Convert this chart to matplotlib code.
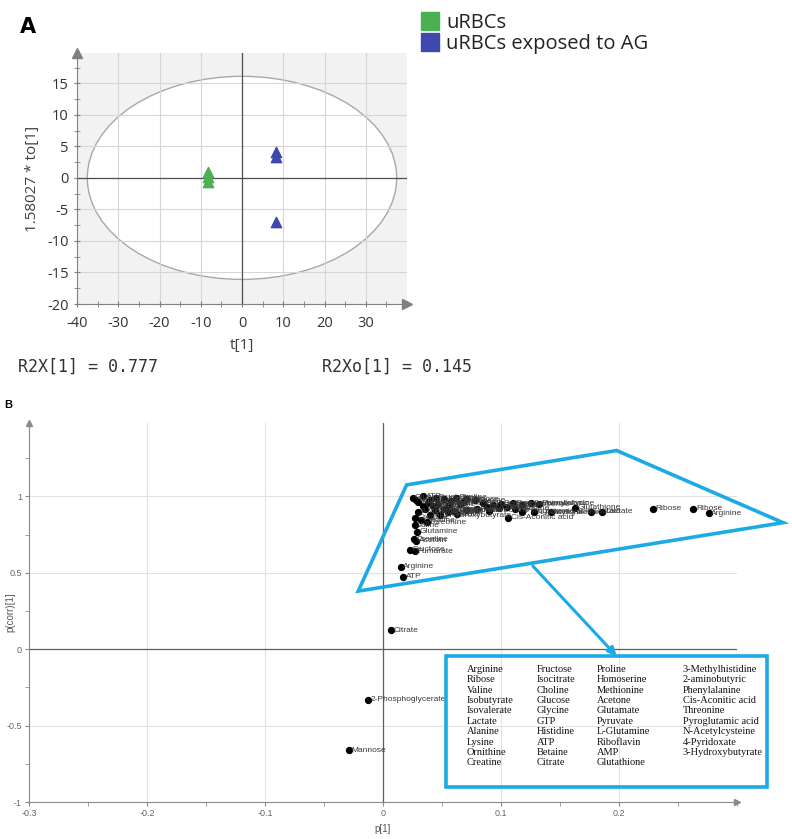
import numpy as np
import matplotlib
matplotlib.use("Agg")
import matplotlib.pyplot as plt
from matplotlib.patches import Ellipse, Polygon, Rectangle
from matplotlib.lines import Line2D
from matplotlib.ticker import MultipleLocator

plt.rcParams["axes.unicode_minus"] = False

# ---- Panel A: OPLS-DA score plot ----
group_names = ["uRBCs", "uRBCs exposed to AG"]
group_colors = ["#4CAF50", "#3F48AE"]
urbc_t = [-8.2, -8.2, -8.2]
urbc_to = [1.0, 0.2, -0.6]
ag_t = [8.2, 8.2, 8.2]
ag_to = [4.1, 3.3, -7.0]
ellipse_t = 37.5      # Hotelling T2 ellipse half axes
ellipse_to = 16.1
r2x_text = "R2X[1] = 0.777"
r2xo_text = "R2Xo[1] = 0.145"

# ---- Panel B: S-plot ----
s_names = ["ATP", "Fructose", "Isocitrate", "Choline", "Glucose", "Glycine", "Valine",
           "Isobutyrate", "Isovalerate", "Alanine", "Lysine", "Ornithine", "GTP",
           "Histidine", "Betaine", "Proline", "Homoserine", "2-aminobutyric",
           "Phenylalanine", "Methionine", "Glutamate", "Pyruvate", "L-Glutamine",
           "Riboflavin", "AMP", "Threonine", "Pyroglutamic acid", "N-Acetylcysteine",
           "Acetone", "3-Methylhistidine", "4-Pyridoxate", "3-Hydroxybutyrate",
           "Creatine", "Cis-Aconitic acid", "Glutathione", "Lactate", "Lactate",
           "Ribose", "Ribose", "Arginine", "Valine", "Glutamine", "Creatine",
           "Acetoin", "Fructose", "Fumarate", "Arginine", "ATP", "Citrate",
           "2-Phosphoglycerate", "Mannose",
           "Glucose", "Lysine", "Alanine", "Proline", "Glycine", "Choline",
           "Betaine", "Histidine", "Glutamate", "Pyruvate", "Acetone", "GTP",
           "Creatine", "Threonine"]
s_p = [0.034, 0.045, 0.052, 0.062, 0.070, 0.078, 0.028,
       0.030, 0.038, 0.047, 0.056, 0.065, 0.085,
       0.093, 0.100, 0.110, 0.118, 0.125,
       0.132, 0.036, 0.044, 0.052, 0.060,
       0.070, 0.080, 0.090, 0.118, 0.128,
       0.142, 0.030, 0.040, 0.048,
       0.027, 0.106, 0.163, 0.176, 0.186,
       0.229, 0.263, 0.276, 0.027, 0.029, 0.026,
       0.028, 0.023, 0.027, 0.015, 0.017, 0.007,
       -0.013, -0.029,
       0.025, 0.040, 0.058, 0.068, 0.088, 0.098,
       0.105, 0.112, 0.034, 0.042, 0.055, 0.063,
       0.032, 0.037]
s_pcorr = [1.00, 0.99, 0.985, 0.99, 0.98, 0.975, 0.975,
           0.96, 0.955, 0.95, 0.945, 0.95, 0.955,
           0.945, 0.95, 0.955, 0.945, 0.955,
           0.95, 0.92, 0.91, 0.915, 0.905,
           0.91, 0.92, 0.905, 0.90, 0.895,
           0.895, 0.90, 0.88, 0.875,
           0.86, 0.86, 0.925, 0.90, 0.90,
           0.92, 0.92, 0.89, 0.81, 0.77, 0.72,
           0.71, 0.65, 0.64, 0.54, 0.475, 0.125,
           -0.33, -0.66,
           0.99, 0.975, 0.97, 0.965, 0.93, 0.925,
           0.93, 0.92, 0.94, 0.935, 0.895, 0.885,
           0.845, 0.83]

table_cols = [
    ["Arginine", "Ribose", "Valine", "Isobutyrate", "Isovalerate", "Lactate",
     "Alanine", "Lysine", "Ornithine", "Creatine"],
    ["Fructose", "Isocitrate", "Choline", "Glucose", "Glycine", "GTP",
     "Histidine", "ATP", "Betaine", "Citrate"],
    ["Proline", "Homoserine", "Methionine", "Acetone", "Glutamate", "Pyruvate",
     "L-Glutamine", "Riboflavin", "AMP", "Glutathione"],
    ["3-Methylhistidine", "2-aminobutyric", "Phenylalanine", "Cis-Aconitic acid",
     "Threonine", "Pyroglutamic acid", "N-Acetylcysteine", "4-Pyridoxate",
     "3-Hydroxybutyrate"],
]

W, H = 792, 839
fig = plt.figure(figsize=(W / 100, H / 100), dpi=100)


def px_axes(l, t, r, b):
    return fig.add_axes([l / W, 1 - b / H, (r - l) / W, (b - t) / H])


sans = "Open Sans"
blue_hl = "#1CAAE6"

# ================= Panel A =================
axA = px_axes(77, 53, 407, 304)
axA.set_xlim(-40, 40)
axA.set_ylim(-20, 19.8)
axA.set_facecolor("#F2F2F2")
axA.set_axisbelow("line")
axA.add_patch(Ellipse((0, 0), 2 * ellipse_t, 2 * ellipse_to, facecolor="white",
                      edgecolor="#A8A8A8", lw=1.0, zorder=1))
axA.set_xticks(range(-40, 31, 10))
axA.set_yticks(range(-20, 16, 5))
axA.xaxis.set_minor_locator(MultipleLocator(5))
axA.yaxis.set_minor_locator(MultipleLocator(2.5))
axA.grid(which="major", color="#D6D6D6", lw=0.8)
axA.axhline(0, color="#505050", lw=0.9, zorder=2)
axA.axvline(0, color="#505050", lw=0.9, zorder=2)
for s in ["top", "right"]:
    axA.spines[s].set_visible(False)
for s in ["left", "bottom"]:
    axA.spines[s].set_color("#808080")
axA.tick_params(which="both", colors="#808080", labelcolor="#333333",
                labelsize=10.5, direction="inout")
axA.tick_params(which="major", length=5)
axA.tick_params(which="minor", length=4)
axA.tick_params(axis="x", pad=6)
for lab in axA.get_xticklabels() + axA.get_yticklabels():
    lab.set_family(sans)
axA.plot(1, 0, ">", color="#808080", ms=7, transform=axA.transAxes, clip_on=False)
axA.plot(0, 1, "^", color="#808080", ms=7, transform=axA.transAxes, clip_on=False)
axA.scatter(urbc_t, urbc_to, marker="^", s=55, color=group_colors[0], zorder=4)
axA.scatter(ag_t, ag_to, marker="^", s=55, color=group_colors[1], zorder=4)
axA.set_xlabel("t[1]", family=sans, size=11, color="#404040", labelpad=5)
axA.set_ylabel("1.58027 * to[1]", family=sans, size=11, color="#404040", labelpad=5)

handles = [Line2D([], [], marker="s", ls="", color=c, ms=13) for c in group_colors]
fig.legend(handles, group_names, loc="upper left", bbox_to_anchor=(409 / W, 1 - 3 / H),
           frameon=False, prop={"family": sans, "size": 14.5}, handletextpad=0.25,
           labelspacing=0.05, handlelength=1.1, borderpad=0, labelcolor="#222222")

fig.text(20 / W, 1 - 27 / H, "A", weight="bold", size=15, va="center")
fig.text(18 / W, 1 - 367 / H, r2x_text, family="DejaVu Sans Mono", size=12,
         color="#333333", va="center")
fig.text(322 / W, 1 - 367 / H, r2xo_text, family="DejaVu Sans Mono", size=12,
         color="#333333", va="center")

# ================= Panel B =================
narrow = "Liberation Sans"
axB = px_axes(29, 423, 737, 802)
axB.set_xlim(-0.3, 0.3)
axB.set_ylim(-1, 1.48)
axB.set_xticks([-0.3, -0.2, -0.1, 0, 0.1, 0.2])
axB.set_xticklabels(["-0.3", "-0.2", "-0.1", "0", "0.1", "0.2"])
axB.set_yticks([-1, -0.5, 0, 0.5, 1])
axB.set_yticklabels(["-1", "-0.5", "0", "0.5", "1"])
axB.xaxis.set_minor_locator(MultipleLocator(0.05))
axB.yaxis.set_minor_locator(MultipleLocator(0.25))
axB.grid(which="major", color="#E2E2E2", lw=0.8)
axB.axhline(0, color="#606060", lw=0.9, zorder=2)
axB.axvline(0, color="#606060", lw=0.9, zorder=2)
for s in ["top", "right"]:
    axB.spines[s].set_visible(False)
for s in ["left", "bottom"]:
    axB.spines[s].set_color("#8A8A8A")
axB.tick_params(which="both", colors="#8A8A8A", labelcolor="#666666",
                labelsize=6.5, direction="out", length=3, pad=2)
for lab in axB.get_xticklabels() + axB.get_yticklabels():
    lab.set_family(narrow)
axB.plot(1, 0, ">", color="#8A8A8A", ms=4, transform=axB.transAxes, clip_on=False)
axB.plot(0, 1, "^", color="#8A8A8A", ms=4, transform=axB.transAxes, clip_on=False)
axB.set_xlabel("p[1]", family=narrow, size=7, color="#555555", labelpad=4)
axB.set_ylabel("p(corr)[1]", family=narrow, size=7, color="#555555", va="center")
axB.yaxis.set_label_coords(-19 / 708, 0.5)

axB.scatter(s_p, s_pcorr, s=18, color="black", zorder=5)
for name, x, y in zip(s_names, s_p, s_pcorr):
    axB.text(x + 0.0022, y, name, family=narrow, size=6, color="#3A3A3A",
             va="center", ha="left", zorder=6)

fig.text(8 / W, 1 - 405 / H, "B", weight="bold", size=8, va="center", ha="center",
         family=narrow)

# highlight polygon, arrow and membership box
axB.add_patch(Polygon([(0.020, 1.075), (0.198, 1.30), (0.339, 0.828), (-0.021, 0.38)],
                      closed=True, fill=False, edgecolor=blue_hl, lw=2.6,
                      clip_on=False, zorder=7))
axB.annotate("", xy=(0.198, -0.045), xytext=(0.127, 0.544),
             arrowprops=dict(arrowstyle="-|>", color=blue_hl, lw=2.2,
                             mutation_scale=12, shrinkA=0, shrinkB=0),
             annotation_clip=False, zorder=7)
box_l, box_r, box_t, box_b = 0.053, 0.325, -0.046, -0.905
axB.add_patch(Rectangle((box_l, box_b), box_r - box_l, box_t - box_b, fill=False,
                        edgecolor=blue_hl, lw=2.6, clip_on=False, zorder=7))
col_x = [0.0712, 0.1305, 0.1814, 0.2542]
row0, row_step = -0.131, 0.0682
for cx, col in zip(col_x, table_cols):
    for i, name in enumerate(col):
        axB.text(cx, row0 - i * row_step, name, family="Liberation Serif", size=7.5,
                 color="#111111", va="center", ha="left", zorder=8)

fig.savefig("out.png", dpi=100)
